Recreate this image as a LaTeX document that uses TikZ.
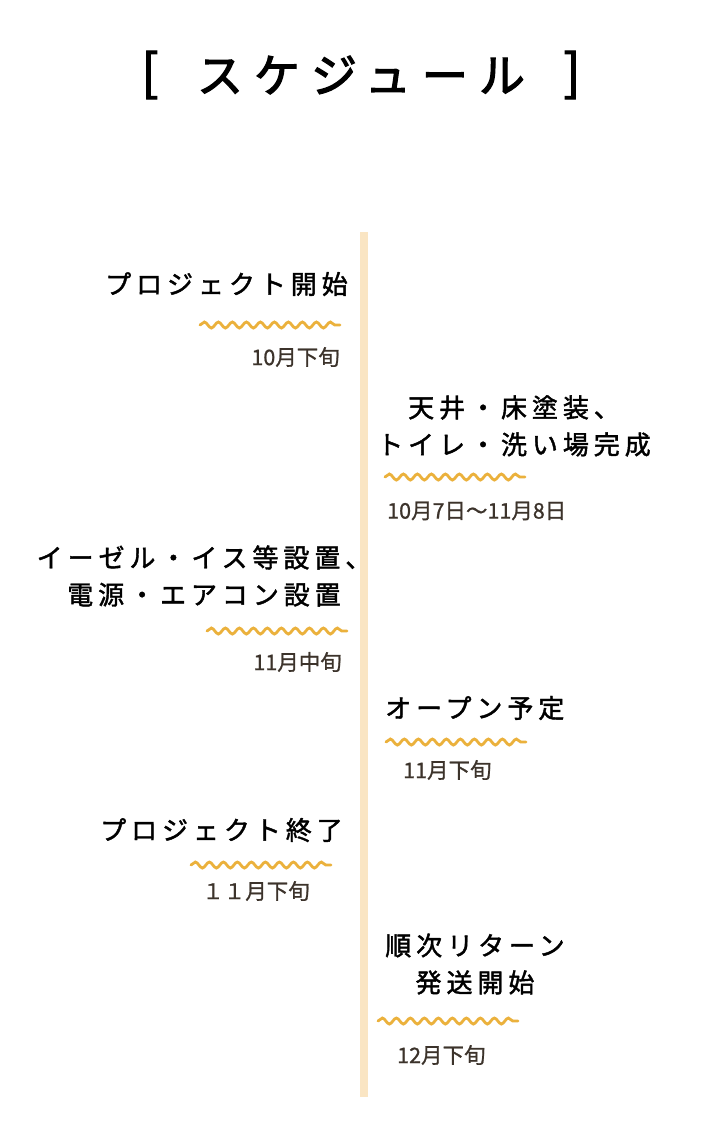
\documentclass[tikz,border=0pt]{standalone}
\usepackage{fontspec}
\usetikzlibrary{decorations.pathmorphing}
\newfontfamily\handfont[LetterSpace=19, FakeBold=1.6]{Noto Sans CJK JP}
\newfontfamily\titlefont[LetterSpace=24, FakeBold=2.6]{Noto Sans CJK JP}
\newfontfamily\datefont[FakeBold=0.9]{Noto Sans CJK JP}
\definecolor{timebar}{HTML}{FAE5C3}
\definecolor{wave}{HTML}{EBB13C}
\definecolor{datecol}{HTML}{3C332B}

\tikzset{
  event/.style={font=\handfont\fontsize{26}{37}\selectfont, inner sep=0pt, align=center},
  date/.style={font=\datefont\fontsize{21.5}{23}\selectfont, text=datecol, inner sep=0pt},
  squiggle/.style={draw=wave, line width=2.8pt, line cap=round,
    decorate, decoration={snake, segment length=14pt, amplitude=3pt}}
}

\begin{document}
\begin{tikzpicture}[x=1pt, y=-1pt]
\useasboundingbox [fill=white] (0, 0) rectangle (724, 1122);

% title
\node [font=\titlefont\fontsize{46}{50}\selectfont, inner sep=0pt] (title) at (361, 75) {スケジュール};
\node [font=\titlefont\fontsize{50}{50}\selectfont, inner sep=0pt] (lbrack) at (150, 75) {[};
\node [font=\titlefont\fontsize{50}{50}\selectfont, inner sep=0pt] (rbrack) at (572, 75) {]};

% time line
\fill [timebar] (360, 232) rectangle (368, 1097);

% left side
\node [event, anchor=east] (start) at (348, 284) {プロジェクト開始};
\draw [squiggle] (200, 325) -- (340, 325);
\node [date, anchor=east] (startdate) at (340, 357) {10月下旬};

\node [event] (setup) at (204, 576) {イーゼル・イス等設置、\\電源・エアコン設置};
\draw [squiggle] (207, 631) -- (347, 631);
\node [date, anchor=east] (setupdate) at (342, 662) {11月中旬};

\node [event, anchor=east] (finish) at (343, 830) {プロジェクト終了};
\draw [squiggle] (191, 865) -- (331, 865);
\node [date, anchor=east] (finishdate) at (310, 891) {１１月下旬};

% right side
\node [event] (paint) at (514, 426) {天井・床塗装、\\トイレ・洗い場完成};
\draw [squiggle] (385, 477) -- (525, 477);
\node [date, anchor=west] (paintdate) at (387, 511) {10月7日〜11月8日};

\node [event, anchor=west] (open) at (385, 708) {オープン予定};
\draw [squiggle] (386, 742) -- (526, 742);
\node [date, anchor=west] (opendate) at (403, 770) {11月下旬};

\node [event] (ship) at (475, 964) {順次リターン\\発送開始};
\draw [squiggle] (378, 1021) -- (518, 1021);
\node [date, anchor=west] (shipdate) at (397, 1055) {12月下旬};
\end{tikzpicture}
\end{document}
